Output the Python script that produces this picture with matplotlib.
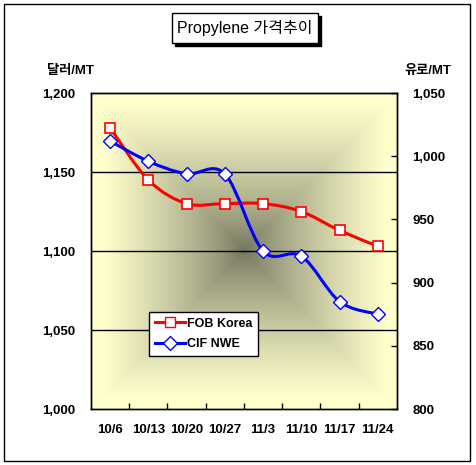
import numpy as np
import matplotlib
matplotlib.use('agg')
import matplotlib.pyplot as plt
from matplotlib.path import Path
from matplotlib.patches import PathPatch, Rectangle
from matplotlib.lines import Line2D

# data
dates = ['10/6', '10/13', '10/20', '10/27', '11/3', '11/10', '11/17', '11/24']
fob_korea = [1178, 1145, 1130, 1130, 1130, 1125, 1113, 1103]   # USD/MT, left axis
cif_nwe = [1012, 996, 986, 986, 925, 921, 885, 875]             # EUR/MT, right axis
left_ticks = [1000, 1050, 1100, 1150, 1200]
right_ticks = [800, 850, 900, 950, 1000, 1050]

plt.rcParams['font.family'] = ['Liberation Sans', 'Noto Sans CJK KR']


def smooth_path(xs, ys):
    # Excel style smoothed line: cubic bezier through the points
    pts = np.column_stack([xs, ys]).astype(float)
    n = len(pts)
    verts = [pts[0]]
    codes = [Path.MOVETO]
    for i in range(n - 1):
        p0 = pts[i - 1] if i > 0 else pts[i]
        p1 = pts[i]
        p2 = pts[i + 1]
        p3 = pts[i + 2] if i + 2 < n else pts[i + 1]
        c1 = p1 + (p2 - p0) / 6.0
        c2 = p2 - (p3 - p1) / 6.0
        verts += [c1, c2, p2]
        codes += [Path.CURVE4] * 3
    return Path(verts, codes)


fig = plt.figure(figsize=(4.76, 4.65), dpi=100)
ax = fig.add_axes([0.191, 0.1204, 0.643, 0.6796])
ax2 = ax.twinx()

x = np.arange(len(dates))
ax.set_xlim(-0.5, len(dates) - 0.5)
ax.set_ylim(1000, 1200)
ax2.set_ylim(800, 1050)

# square path gradient background
n = 300
u = np.linspace(-1, 1, n)
U, V = np.meshgrid(u, u)
d = np.maximum(np.abs(U), np.abs(V))
d = np.clip(d / 0.92, 0, 1) ** 0.75
center = np.array([112, 114, 92]) / 255.0
edge = np.array([255, 255, 204]) / 255.0
img = center + (edge - center) * d[..., None]
ax.imshow(img, extent=[0, 1, 0, 1], transform=ax.transAxes, aspect='auto',
          zorder=0, interpolation='bilinear')

for v in [1050, 1100, 1150]:
    ax.axhline(v, color='black', lw=1.0, zorder=1)

# FOB Korea
ax.add_patch(PathPatch(smooth_path(x, fob_korea), facecolor='none',
                       edgecolor='#ff0000', lw=2.2, zorder=3))
ax.plot(x, fob_korea, ls='none', marker='s', ms=6.5, mfc='white',
        mec='#ff0000', mew=1.2, zorder=4)

# CIF NWE
ax2.add_patch(PathPatch(smooth_path(x, cif_nwe), facecolor='none',
                        edgecolor='#0000ff', lw=2.2, zorder=3))
ax2.plot(x, cif_nwe, ls='none', marker='D', ms=7, mfc='white',
         mec='#0000ff', mew=1.0, zorder=4)

# axes styling
for a in (ax, ax2):
    for s in a.spines.values():
        s.set_linewidth(1.0)
        s.set_color('black')

ax.set_xticks(np.arange(len(dates) - 1) + 0.5)
ax.set_xticklabels([])
ax.set_xticks(x, minor=True)
ax.set_xticklabels(dates, minor=True, fontsize=9.5, fontweight='bold')
ax.tick_params(axis='x', which='major', direction='in', length=4, width=1)
ax.tick_params(axis='x', which='minor', length=0, pad=11)

ax.set_yticks(left_ticks)
ax.set_yticklabels([f'{v:,}' for v in left_ticks], fontsize=9.5, fontweight='bold')
ax.tick_params(axis='y', length=0, pad=11)

ax2.set_yticks(right_ticks)
ax2.set_yticklabels([f'{v:,}' for v in right_ticks], fontsize=9.5, fontweight='bold')
ax2.tick_params(axis='y', direction='in', length=4, width=1, pad=11)

# legend
handles = [
    Line2D([], [], color='#ff0000', lw=2.2, marker='s', ms=6.5, mfc='white', mec='#ff0000'),
    Line2D([], [], color='#0000ff', lw=2.2, marker='D', ms=7, mfc='white', mec='#0000ff'),
]
leg = ax2.legend(handles, ['FOB Korea', 'CIF NWE'], loc='upper left',
                 bbox_to_anchor=(0.19, 0.307), fancybox=False, framealpha=1,
                 edgecolor='black', prop={'weight': 'bold', 'size': 9},
                 handlelength=2.4, handletextpad=0.2, borderpad=0.45,
                 labelspacing=0.7, borderaxespad=0)
leg.get_frame().set_linewidth(1.0)
leg.set_zorder(10)

# axis unit labels
fig.text(70 / 476, 1 - 71 / 465, '달러/MT', ha='center', va='center',
         fontsize=9.5, fontweight='bold')
fig.text(428 / 476, 1 - 71 / 465, '유로/MT', ha='center', va='center',
         fontsize=9.5, fontweight='bold')

# title box with shadow
bx, by, bw, bh = 172 / 476, 1 - 43 / 465, 146 / 476, 30 / 465
fig.patches.append(Rectangle((bx + 3 / 476, by - 3 / 465), bw, bh,
                             transform=fig.transFigure, facecolor='black',
                             edgecolor='black', zorder=1))
fig.patches.append(Rectangle((bx, by), bw, bh, transform=fig.transFigure,
                             facecolor='white', edgecolor='black', lw=1.0, zorder=2))
fig.text(bx + bw / 2, by + bh / 2, 'Propylene 가격추이', ha='center',
         va='center', fontsize=11.5, zorder=3)

# outer frame
fig.patches.append(Rectangle((4 / 476, 4 / 465), 466 / 476, 457 / 465,
                             transform=fig.transFigure, facecolor='none',
                             edgecolor='black', lw=1.0))

fig.savefig('out.png', dpi=100)
